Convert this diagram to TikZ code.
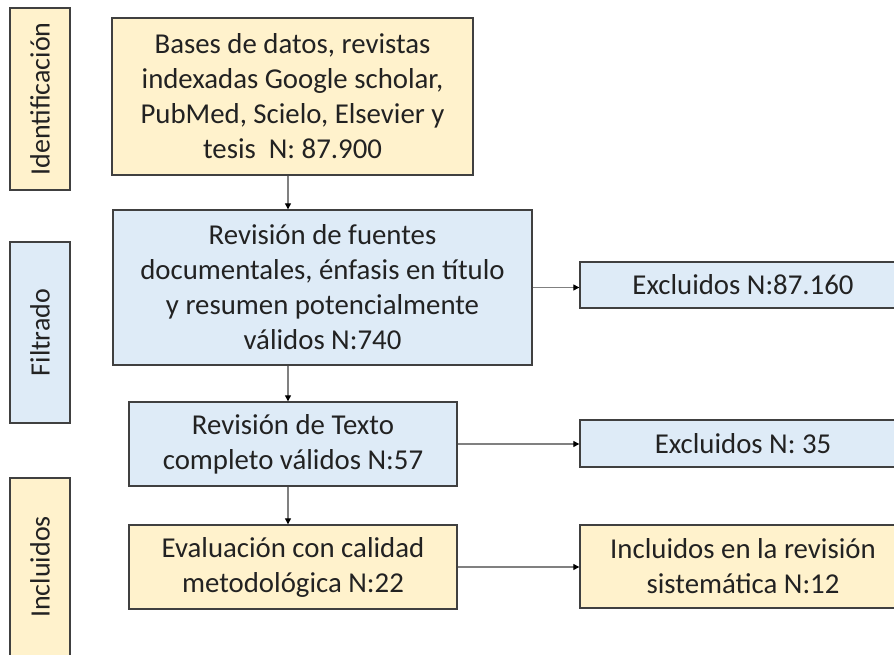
\documentclass[tikz,border=0pt]{standalone}
\usepackage{fontspec}
\setmainfont{Carlito}
\usetikzlibrary{arrows.meta,calc}
\definecolor{yel}{HTML}{FFF2CC}
\definecolor{blu}{HTML}{DEEBF7}
\definecolor{edge}{HTML}{404040}
\definecolor{txt}{HTML}{222222}
\definecolor{conn}{HTML}{808080}
\tikzset{
  x=1pt,y=1pt,
  box/.style={draw=edge,line width=1.4pt,inner sep=0pt,align=center,text=txt,
    font=\fontsize{28.8}{35}\selectfont},
  ybox/.style={box,fill=yel},
  bbox/.style={box,fill=blu},
  side/.style={box,rotate=90,font=\fontsize{28}{32}\selectfont},
  arr/.style={draw=conn,line width=1.2pt,-{Triangle[length=6pt,width=6pt,fill=black,color=black]}},
}
\begin{document}
\begin{tikzpicture}
\useasboundingbox (0,0) rectangle (894,-655);
\clip (0,0) rectangle (894,-655);
\fill[white] (0,0) rectangle (894,-655);
% side labels
\node[side,fill=yel,minimum width=182,minimum height=60] (sid) at (40,-99) {Identificación};
\node[side,fill=blu,minimum width=181,minimum height=60] (sfi) at (40,-332.5) {Filtrado};
\node[side,fill=yel,minimum width=178,minimum height=60] (sin) at (40,-567) {Incluidos};
% main column
\node[ybox,minimum width=361,minimum height=157] (top) at (292.5,-96.5)
  {Bases de datos, revistas\\indexadas Google scholar,\\PubMed, Scielo, Elsevier y\\tesis\ \ N: 87.900};
\node[bbox,minimum width=419,minimum height=155] (rev) at (322.5,-287.5)
  {Revisión de fuentes\\documentales, énfasis en título\\y resumen potencialmente\\válidos N:740};
\node[bbox,minimum width=328,minimum height=84] (tex) at (293,-444)
  {Revisión de Texto\\completo válidos N:57};
\node[ybox,minimum width=328,minimum height=84] (eva) at (293,-567)
  {Evaluación con calidad\\metodológica N:22};
% right column
\node[bbox,minimum width=326,minimum height=46] (ex1) at (743,-285) {Excluidos N:87.160};
\node[bbox,minimum width=326,minimum height=47] (ex2) at (743,-443.5) {Excluidos N: 35};
\node[ybox,minimum width=326,minimum height=83] (inc) at (743,-566.5)
  {Incluidos en la revisión\\sistemática N:12};
% connectors
\coordinate (cx) at (288,0);
\draw[arr] (top.south -| cx) -- (rev.north -| cx);
\draw[arr] (rev.south -| cx) -- (tex.north -| cx);
\draw[arr] (tex.south -| cx) -- (eva.north -| cx);
\draw[arr] (rev.east) -- (rev.east -| ex1.west);
\draw[arr] (tex.east) -- (tex.east -| ex2.west);
\draw[arr] (eva.east) -- (eva.east -| inc.west);
\end{tikzpicture}
\end{document}
